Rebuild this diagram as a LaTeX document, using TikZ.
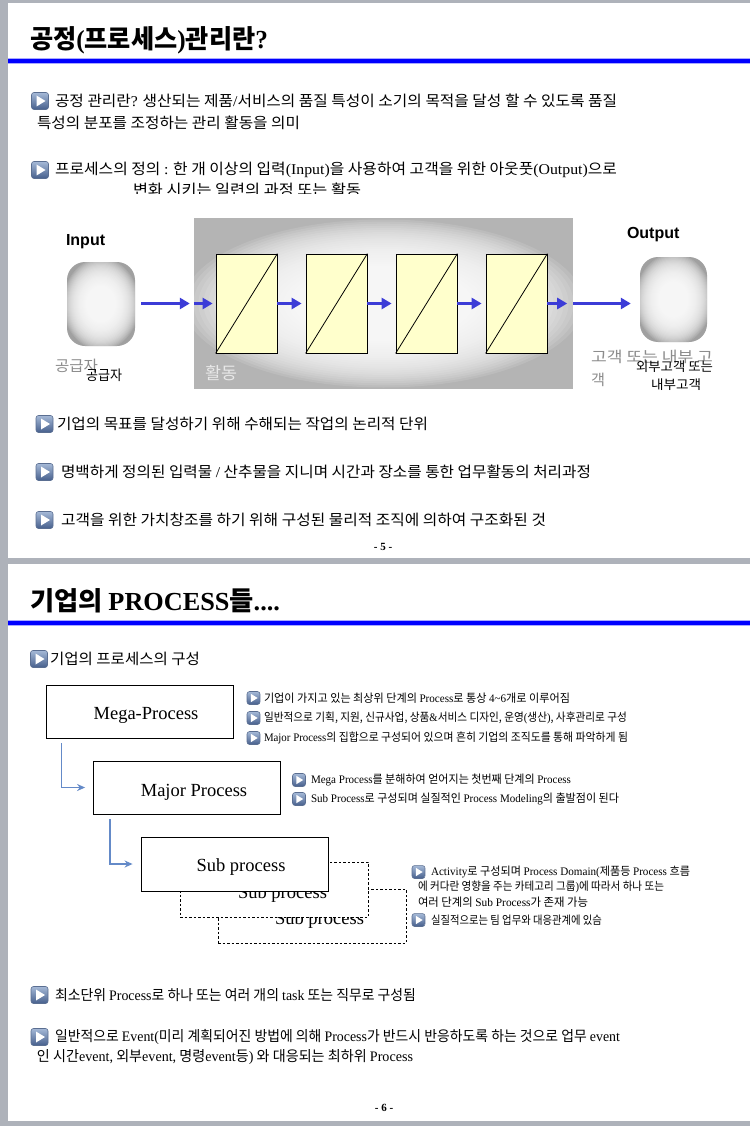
\documentclass[tikz,border=0pt]{standalone}
\usepackage{fontspec}
\usepackage{graphicx}
\setmainfont{Noto Sans CJK KR}
\newfontfamily\lib{Liberation Serif}
\newfontfamily\ars{Liberation Sans}
\usetikzlibrary{arrows.meta,calc}

\newcommand\tm[1]{{\lib #1}}
\newcommand\fs[1]{\fontsize{#1}{#1}\selectfont}
\newcommand\fw[2]{\resizebox{#1pt}{\height}{#2}}
% soft white glow: node, half width, half height, opacity per layer
\newcommand\glowat[4]{%
  \foreach \k in {0,...,39}{%
    \pgfmathsetmacro\rx{#2*(1-\k/40)}%
    \pgfmathsetmacro\ry{#3*(1-\k/40)}%
    \fill[white, opacity=#4] (#1.center) ellipse [x radius=\rx pt, y radius=\ry pt];
  }}

\definecolor{pagegray}{RGB}{174,178,186}
\definecolor{bandblue}{RGB}{0,0,255}
\definecolor{bandhalo}{RGB}{170,170,255}
\definecolor{arrblue}{RGB}{60,60,215}
\definecolor{connblue}{RGB}{100,138,200}
\definecolor{boxyellow}{RGB}{255,255,204}
\definecolor{actgray}{RGB}{180,180,180}
\definecolor{cloudgray}{RGB}{160,160,160}
\definecolor{icT}{RGB}{165,185,215}
\definecolor{icB}{RGB}{70,95,140}
\definecolor{icD}{RGB}{90,110,145}
\definecolor{lblgray}{RGB}{140,140,140}
\definecolor{lblwhite}{RGB}{232,232,232}

\tikzset{
 txt/.style={anchor=west, inner sep=0pt, outer sep=0pt},
 ybox/.style={draw=black, line width=0.8pt, fill=boxyellow, minimum width=61pt, minimum height=99pt, inner sep=0pt},
 cloudbox/.style={fill=cloudgray, rounded corners=18pt, minimum width=68pt, minimum height=84pt, inner sep=0pt},
 parr/.style={arrblue, line width=3.2pt, -{Triangle[length=10pt,width=11pt]}},
 pbox/.style={draw=black, line width=0.8pt, fill=white, minimum width=187pt, minimum height=53pt, inner sep=0pt},
 dbox/.style={pbox, dash pattern=on 2.5pt off 2pt, minimum width=188pt, minimum height=54pt},
 conn/.style={connblue, line width=1.4pt, -{Stealth[length=8pt,width=7pt]}},
 ptext/.style={font=\lib\fs{18.5}, inner sep=0pt},
 bicon/.pic={
   \shadedraw[top color=icT, bottom color=icB, draw=icD, line width=0.6pt, rounded corners=2.5pt] (-8.5,-8.5) rectangle (8.5,8.5);
   \fill[white] (-3.5,-5.5) -- (5.5,0) -- (-3.5,5.5) -- cycle;
 }
}

\begin{document}
\begin{tikzpicture}[x=1pt,y=-1pt]
\useasboundingbox (0,0) rectangle (750,1126);
% pages
\fill[pagegray] (0,0) rectangle (750,1126);
\fill[white] (8,3) rectangle (750,558);
\fill[white] (8,564) rectangle (750,1121);

% ---------- page 1 ----------
\node[txt, font=\fs{26}\bfseries] (t1) at (30,40) {\fw{238}{공정\tm{(}프로세스\tm{)}관리란\tm{?}}};
\fill[bandhalo] (8,58.5) rectangle (750,64.5);
\fill[bandblue] (8,59.5) rectangle (750,63.5);

\pic at (40,101) {bicon};
\node[txt, font=\fs{15}] (l1) at (55,101) {\fw{562}{공정 관리란\tm{?} 생산되는 제품\tm{/}서비스의 품질 특성이 소기의 목적을 달성 할 수 있도록 품질}};
\node[txt, font=\fs{15}] (l2) at (37,123) {\fw{263}{특성의 분포를 조정하는 관리 활동을 의미}};
\pic at (40,170) {bicon};
\node[txt, font=\fs{15}] (l3) at (55,170) {\fw{562}{프로세스의 정의 \tm{:} 한 개 이상의 입력\tm{(Input)}을 사용하여 고객을 위한 아웃풋\tm{(Output)}으로}};
\begin{scope}
\clip (0,176) rectangle (750,193.5);
\node[txt, font=\fs{15}] (l4) at (133,190) {\fw{228}{변화 시키는 일련의 과정 또는 활동}};
\end{scope}

% diagram
\node[fill=actgray, minimum width=379pt, minimum height=171pt, inner sep=0pt] (act) at (383.5,303.5) {};
\begin{scope}
\clip (act.south west) rectangle (act.north east);
\glowat{act}{200}{84}{0.11}
\end{scope}
\node[cloudbox] (inp) at (101,304) {};
\begin{scope}
\clip[rounded corners=18pt] (inp.south west) rectangle (inp.north east);
\glowat{inp}{38}{46}{0.11}
\end{scope}
\node[cloudbox, minimum width=67pt, minimum height=85pt] (out) at (673.5,299.5) {};
\begin{scope}
\clip[rounded corners=18pt] (out.south west) rectangle (out.north east);
\glowat{out}{38}{46}{0.11}
\end{scope}
\foreach \i/\xx in {1/246.5,2/336.5,3/426.5,4/516.5}{
  \node[ybox] (b\i) at (\xx,303.5) {};
  \draw[line width=0.8pt] (b\i.south west) -- (b\i.north east);
}
\draw[parr, shorten <=6pt, shorten >=4pt] (inp.east|-b1.west) -- (act.west|-b1.west);
\draw[parr, shorten >=3pt] (act.west|-b1.west) -- (b1.west);
\draw[parr, shorten >=4pt] (b1.east) -- (b2.west);
\draw[parr, shorten >=4pt] (b2.east) -- (b3.west);
\draw[parr, shorten >=4pt] (b3.east) -- (b4.west);
\draw[parr, shorten >=6pt] (b4.east) -- (act.east|-b4.east);
\draw[parr, shorten >=9pt] (act.east|-b4.east) -- (out.west|-b4.east);

\node[txt, font=\ars\bfseries\fs{16}] (inlbl) at (66,242) {Input};
\node[txt, font=\ars\bfseries\fs{16}] (outlbl) at (627,235) {Output};
\node[txt, font=\fs{15}, text=lblgray] (sup1) at (55,366) {\fw{43}{공급자}};
\node[txt, font=\fs{14}] (sup2) at (86,375) {\fw{36}{공급자}};
\node[txt, font=\fs{17}, text=lblwhite] (actlbl) at (205,373) {\fw{32}{활동}};
\node[txt, font=\fs{15}, text=lblgray] (cus1) at (591,357) {\fw{122}{고객 또는 내부 고}};
\node[txt, font=\fs{15}, text=lblgray] (cus2) at (591,380) {\fw{14}{객}};
\node[txt, font=\fs{13}] (cus3) at (636,367) {\fw{77}{외부고객 또는}};
\node[txt, font=\fs{13}] (cus4) at (651,385) {\fw{50}{내부고객}};

\pic at (44.5,424) {bicon};
\node[txt, font=\fs{15}] (l5) at (57,424) {\fw{371}{기업의 목표를 달성하기 위해 수해되는 작업의 논리적 단위}};
\pic at (44.5,472) {bicon};
\node[txt, font=\fs{15}] (l6) at (61,472) {\fw{530}{명백하게 정의된 입력물 \tm{/} 산추물을 지니며 시간과 장소를 통한 업무활동의 처리과정}};
\pic at (44.5,520) {bicon};
\node[txt, font=\fs{15}] (l7) at (61,520) {\fw{485}{고객을 위한 가치창조를 하기 위해 구성된 물리적 조직에 의하여 구조화된 것}};
\node[font=\lib\bfseries\fs{11}, inner sep=0pt] (pg5) at (383,547) {- 5 -};

% ---------- page 2 ----------
\node[txt, font=\fs{26}\bfseries] (t2) at (30,601) {\fw{250}{기업의 \tm{PROCESS}들\tm{....}}};
\fill[bandhalo] (8,620) rectangle (750,626);
\fill[bandblue] (8,621) rectangle (750,625);

\pic at (39,659) {bicon};
\node[txt, font=\fs{15}] (p1) at (50,659) {\fw{150}{기업의 프로세스의 구성}};

% process boxes
\node[pbox] (mega) at (139.5,711.5) {};
\node[ptext] (megat) at ($(mega.center)+(6.5,3.5)$) {Mega-Process};
\node[pbox] (major) at (187,787.5) {};
\node[ptext] (majort) at ($(major.center)+(7,4.5)$) {Major Process};
\node[dbox] (d3) at (312,916) {};
\node[ptext] (d3t) at ($(d3.center)+(7.5,4)$) {Sub process};
\node[dbox, minimum height=55pt] (d2) at (274,889.5) {};
\node[ptext] (d2t) at ($(d2.center)+(8.5,4.5)$) {Sub process};
\node[pbox, minimum height=54pt] (sub) at (234.5,864) {};
\node[ptext] (subt) at ($(sub.center)+(6.5,3)$) {Sub process};

\draw[conn] ($(mega.south west)+(16,5)$) |- ($(major.west)+(-8,0)$);
\draw[conn] ($(major.south west)+(17,5)$) |- ($(sub.west)+(-8,0)$);

% mega notes
\pic[scale=0.76] at (253.5,698) {bicon};
\node[txt, font=\fs{11.5}] (m1) at (264,698) {\fw{306}{기업이 가지고 있는 최상위 단계의 \tm{Process}로 통상 \tm{4\textasciitilde6}개로 이루어짐}};
\pic[scale=0.76] at (253.5,718) {bicon};
\node[txt, font=\fs{11.5}] (m2) at (264,718) {\fw{363}{일반적으로 기획, 지원, 신규사업, 상품\tm{\&}서비스 디자인, 운영\tm{(}생산\tm{)}, 사후관리로 구성}};
\pic[scale=0.76] at (253.5,738) {bicon};
\node[txt, font=\fs{11.5}] (m3) at (264,738) {\fw{364}{\tm{Major Process}의 집합으로 구성되어 있으며 흔히 기업의 조직도를 통해 파악하게 됨}};

% major notes
\pic[scale=0.76] at (299,780) {bicon};
\node[txt, font=\fs{11.5}] (j1) at (311,780) {\fw{260}{\tm{Mega Process}를 분해하여 얻어지는 첫번째 단계의 \tm{Process}}};
\pic[scale=0.76] at (299,799) {bicon};
\node[txt, font=\fs{11.5}] (j2) at (311,799) {\fw{308}{\tm{Sub Process}로 구성되며 실질적인 \tm{Process Modeling}의 출발점이 된다}};

% sub notes
\pic[scale=0.76] at (418.5,872) {bicon};
\node[txt, font=\fs{11.5}] (s1) at (431,872) {\fw{259}{\tm{Activity}로 구성되며 \tm{Process Domain(}제품등 \tm{Process} 흐름}};
\node[txt, font=\fs{11.5}] (s2) at (418,887) {\fw{246}{에 커다란 영향을 주는 카테고리 그룹\tm{)}에 따라서 하나 또는}};
\node[txt, font=\fs{11.5}] (s3) at (418,902) {\fw{170}{여러 단계의 \tm{Sub Process}가 존재 가능}};
\pic[scale=0.76] at (418.5,920) {bicon};
\node[txt, font=\fs{11.5}] (s4) at (431,920) {\fw{171}{실질적으로는 팀 업무와 대응관계에 있슴}};

% bottom bullets
\pic at (39.5,995) {bicon};
\node[txt, font=\fs{14.5}] (q1) at (55,995) {\fw{361}{최소단위 \tm{Process}로 하나 또는 여러 개의 \tm{task} 또는 직무로 구성됨}};
\pic at (39.5,1037) {bicon};
\node[txt, font=\fs{14.5}] (q2) at (55,1037) {\fw{565}{일반적으로 \tm{Event(}미리 계획되어진 방법에 의해 \tm{Process}가 반드시 반응하도록 하는 것으로 업무 \tm{event}}};
\node[txt, font=\fs{14.5}] (q3) at (37,1057) {\fw{376}{인 시간\tm{event,} 외부\tm{event,} 명령\tm{event}등\tm{)} 와 대응되는 최하위 \tm{Process}}};
\node[font=\lib\bfseries\fs{11}, inner sep=0pt] (pg6) at (384,1108) {- 6 -};
\end{tikzpicture}
\end{document}
